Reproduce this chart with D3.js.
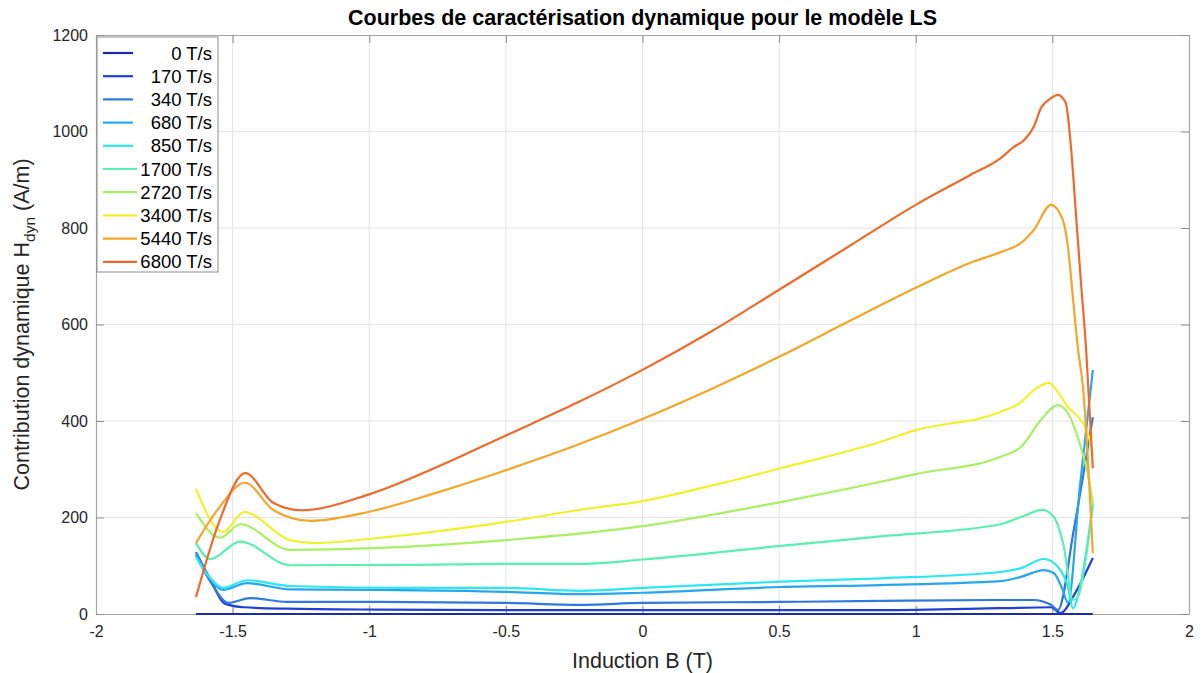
<!DOCTYPE html>
<html>
<head>
<meta charset="utf-8">
<script src="https://cdn.jsdelivr.net/npm/d3@7"></script>
<style>
  body { margin: 0; background: #fff; font-family: "Liberation Sans", Arial, sans-serif; }
</style>
</head>
<body>
<script>
const labels = ["0 T/s", "170 T/s", "340 T/s", "680 T/s", "850 T/s", "1700 T/s", "2720 T/s", "3400 T/s", "5440 T/s", "6800 T/s"];
const colors = ["#1e2aa8", "#1f3fd6", "#2f78df", "#25a6ee", "#2ce6f4", "#5cefb2", "#a9ef62", "#f2ef2c", "#f3a62a", "#ee6a2c"];

// [B (T), Hdyn (A/m)]
const h0 = [[-1.634, 0], [0, 0], [1.648, 0]];
const h170 = [[-1.634, 128], [-1.58, 70], [-1.53, 22], [-1.46, 14], [-1.3, 11], [-0.96, 9], [-0.5, 8], [0, 8], [0.5, 8], [0.872, 8], [1.311, 12], [1.495, 14], [1.53, 2], [1.58, 40], [1.648, 116]];
const h340 = [[-1.634, 122], [-1.58, 66], [-1.516, 23], [-1.436, 33], [-1.3, 25], [-0.96, 25], [-0.5, 23], [-0.227, 19], [0, 23], [0.505, 25], [0.872, 27], [1.311, 29], [1.43, 29], [1.495, 19], [1.52, 8], [1.58, 180], [1.648, 408]];
const h680 = [[-1.634, 126], [-1.59, 80], [-1.535, 50], [-1.447, 64], [-1.29, 51], [-0.96, 50], [-0.5, 46], [-0.227, 41], [0, 44], [0.505, 56], [0.872, 60], [1.311, 68], [1.385, 77], [1.469, 91], [1.505, 85], [1.538, 50], [1.557, 23], [1.6, 260], [1.648, 506]];
const h850 = [[-1.634, 118], [-1.59, 80], [-1.535, 54], [-1.447, 70], [-1.29, 58], [-0.85, 54], [-0.5, 54], [-0.227, 48], [0, 54], [0.505, 67], [0.872, 74], [1.311, 87], [1.385, 95], [1.469, 114], [1.52, 98], [1.557, 56], [1.575, 12], [1.604, 64], [1.648, 225]];
const h1700 = [[-1.634, 147], [-1.582, 114], [-1.472, 150], [-1.29, 101], [-0.85, 102], [-0.5, 104], [-0.227, 104], [0, 113], [0.505, 141], [0.872, 161], [1.311, 186], [1.385, 201], [1.465, 216], [1.505, 201], [1.542, 139], [1.575, 29], [1.593, 35], [1.623, 118], [1.648, 230]];
const h2720 = [[-1.634, 209], [-1.546, 158], [-1.472, 186], [-1.29, 133], [-0.96, 137], [-0.5, 153], [0, 182], [0.505, 232], [0.872, 274], [1.0, 290], [1.311, 326], [1.385, 346], [1.458, 402], [1.52, 433], [1.557, 416], [1.604, 346], [1.634, 278], [1.648, 230]];
const h3400 = [[-1.634, 259], [-1.535, 170], [-1.458, 211], [-1.29, 153], [-1.2, 147], [-0.96, 158], [-0.5, 191], [-0.227, 216], [0, 234], [0.26, 267], [0.505, 302], [0.872, 357], [1.0, 381], [1.311, 419], [1.385, 439], [1.432, 464], [1.487, 479], [1.52, 460], [1.557, 429], [1.604, 402], [1.63, 375], [1.648, 330]];
const h5440 = [[-1.634, 147], [-1.55, 220], [-1.455, 272], [-1.35, 215], [-1.216, 193], [-1.0, 212], [-0.75, 252], [-0.5, 298], [-0.25, 348], [0, 404], [0.25, 466], [0.5, 533], [0.75, 605], [1.0, 676], [1.2, 728], [1.311, 750], [1.385, 769], [1.432, 796], [1.495, 848], [1.538, 817], [1.557, 761], [1.575, 657], [1.593, 553], [1.612, 470], [1.648, 126]];
const h6800 = [[-1.634, 35], [-1.55, 190], [-1.454, 292], [-1.35, 230], [-1.25, 215], [-1.0, 248], [-0.75, 305], [-0.5, 370], [-0.25, 435], [0, 506], [0.25, 585], [0.5, 672], [0.75, 760], [1.0, 848], [1.2, 910], [1.311, 945], [1.359, 968], [1.396, 982], [1.432, 1010], [1.458, 1048], [1.495, 1069], [1.52, 1076], [1.549, 1059], [1.568, 968], [1.586, 831], [1.604, 692], [1.623, 553], [1.648, 302]];
const series = [h0, h170, h340, h680, h850, h1700, h2720, h3400, h5440, h6800];

const xTicks = [-2, -1.5, -1, -0.5, 0, 0.5, 1, 1.5, 2];
const yTicks = [0, 200, 400, 600, 800, 1000, 1200];

const width = 1204;
const height = 673;
const margin = { top: 35, right: 15, bottom: 59, left: 96 };

const x = d3.scaleLinear().domain([-2, 2]).range([margin.left, width - margin.right]);
const y = d3.scaleLinear().domain([0, 1200]).range([height - margin.bottom, margin.top]);

const svg = d3.select("body").append("svg").attr("width", width).attr("height", height);

// grid
svg.append("g").selectAll("line").data(xTicks.slice(1, -1)).join("line")
  .attr("x1", d => x(d)).attr("x2", d => x(d))
  .attr("y1", y(0)).attr("y2", y(1200))
  .attr("stroke", "#e3e3e3").attr("stroke-width", 1);
svg.append("g").selectAll("line").data(yTicks.slice(1, -1)).join("line")
  .attr("x1", x(-2)).attr("x2", x(2))
  .attr("y1", d => y(d)).attr("y2", d => y(d))
  .attr("stroke", "#e3e3e3").attr("stroke-width", 1);

// axes
const xAxis = svg.append("g").attr("transform", `translate(0,${y(0)})`)
  .call(d3.axisBottom(x).tickValues(xTicks).tickSizeInner(-8).tickSizeOuter(0).tickPadding(12).tickFormat(d => d));
const xTop = svg.append("g").attr("transform", `translate(0,${y(1200)})`)
  .call(d3.axisTop(x).tickValues(xTicks).tickSizeInner(-8).tickSizeOuter(0).tickFormat(""));
const yAxis = svg.append("g").attr("transform", `translate(${x(-2)},0)`)
  .call(d3.axisLeft(y).tickValues(yTicks).tickSizeInner(-8).tickSizeOuter(0).tickPadding(8).tickFormat(d3.format("d")));
const yRight = svg.append("g").attr("transform", `translate(${x(2)},0)`)
  .call(d3.axisRight(y).tickValues(yTicks).tickSizeInner(-8).tickSizeOuter(0).tickFormat(""));

[xAxis, xTop, yAxis, yRight].forEach(g => {
  g.select(".domain").attr("stroke", "#a6a6a6").attr("stroke-width", 1.2);
  g.selectAll(".tick line").attr("stroke", "#8c8c8c");
  g.selectAll(".tick text").attr("fill", "#262626").style("font-size", "16px")
    .style("font-family", "'Liberation Sans', Arial, sans-serif");
});

// curves
const line = d3.line()
  .x(d => x(d[0]))
  .y(d => y(d[1]))
  .curve(d3.curveMonotoneX);

svg.append("g").selectAll("path").data(series).join("path")
  .attr("d", line)
  .attr("fill", "none")
  .attr("stroke", (d, i) => colors[i])
  .attr("stroke-width", 2.2)
  .attr("stroke-linejoin", "round");

// title and labels
svg.append("text")
  .attr("x", (x(-2) + x(2)) / 2).attr("y", 25)
  .attr("text-anchor", "middle")
  .style("font-size", "21.5px").style("font-weight", "bold").attr("fill", "#000")
  .text("Courbes de caractérisation dynamique pour le modèle LS");

svg.append("text")
  .attr("x", (x(-2) + x(2)) / 2).attr("y", 668)
  .attr("text-anchor", "middle")
  .style("font-size", "21.5px").attr("fill", "#262626")
  .text("Induction B (T)");

const yl = svg.append("text")
  .attr("transform", `translate(29,${(y(0) + y(1200)) / 2}) rotate(-90)`)
  .attr("text-anchor", "middle")
  .style("font-size", "21.5px").attr("fill", "#262626");
yl.append("tspan").text("Contribution dynamique H");
yl.append("tspan").attr("dy", 6).style("font-size", "15.5px").text("dyn");
yl.append("tspan").attr("dy", -6).text(" (A/m)");

// legend
const lg = svg.append("g").attr("transform", `translate(${x(-2) + 1},${y(1200) + 2})`);
lg.append("rect").attr("width", 121).attr("height", 235)
  .attr("fill", "#fff").attr("stroke", "#8c8c8c").attr("stroke-width", 1);
const items = lg.selectAll("g.item").data(labels).join("g")
  .attr("class", "item")
  .attr("transform", (d, i) => `translate(0,${16 + i * 23.2})`);
items.append("line")
  .attr("x1", 6).attr("x2", (d, i) => i >= 5 ? 40 : 36)
  .attr("stroke", (d, i) => colors[i]).attr("stroke-width", 2.2);
items.append("text")
  .attr("x", 115).attr("y", 6.5).attr("text-anchor", "end")
  .style("font-size", "18.5px").attr("fill", "#000")
  .text(d => d);
</script>
</body>
</html>
